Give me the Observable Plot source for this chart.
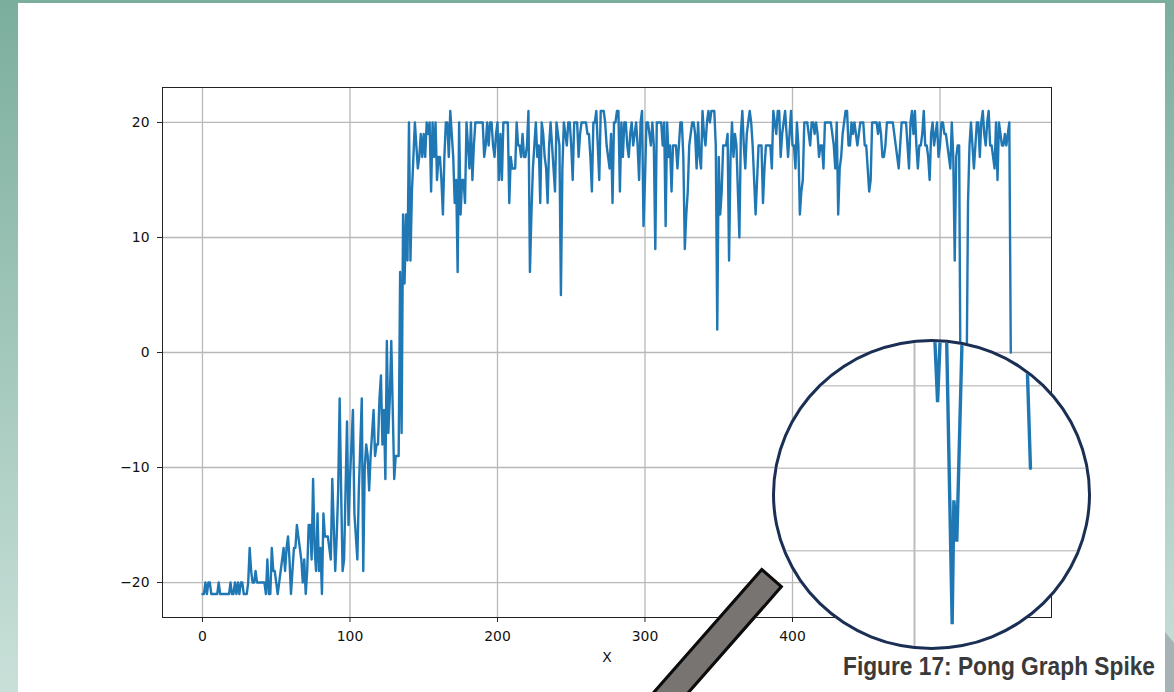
<!DOCTYPE html>
<html><head><meta charset="utf-8">
<script src="https://cdn.jsdelivr.net/npm/d3@7"></script>
<script src="https://cdn.jsdelivr.net/npm/@observablehq/plot@0.6"></script>
<style>
html,body{margin:0;padding:0}
#page{position:relative;width:1174px;height:692px;overflow:hidden;background:linear-gradient(to bottom,#7bae9d 0%,#c9e0d9 100%)}
#panel{position:absolute;left:18px;top:3px;width:1147px;height:689px;background:#fff}
#corner{position:absolute;left:1165px;top:632px;width:9px;height:60px;background:#a5b2b6;clip-path:polygon(0 0,100% 18%,100% 100%,0 100%)}
#main{position:absolute;left:0;top:0}
#handle{position:absolute;left:758px;top:577px;width:23px;height:200px;box-sizing:content-box;background:#787472;border:3px solid #0c0c0c;transform-origin:14.5px 0;transform:rotate(41.3deg)}
#lens{position:absolute;left:772px;top:339px;width:319px;height:311px;box-sizing:border-box;border:3px solid #1b2f55;border-radius:50%;background:#fff;overflow:hidden}
#lens svg{position:absolute;left:-3px;top:-3px;max-width:none!important}
#caption{position:absolute;left:843px;top:652px;font:bold 25px "Liberation Sans",sans-serif;color:#3a3a3a;white-space:nowrap;transform-origin:0 0}
svg{background:transparent!important}
</style></head>
<body><div id="page"><div id="panel"></div><div id="corner"></div><div id="main"></div><div id="handle"></div><div id="lens"></div><div id="caption">Figure 17: Pong Graph Spike</div></div>
<script>
const scores = [
-21,-21,-20,-21,-20,-20,-21,-21,-21,-21,
-21,-20,-21,-21,-21,-21,-21,-21,-21,-20,
-21,-21,-20,-21,-20,-21,-20,-20,-21,-21,
-21,-20,-17,-19,-20,-20,-19,-20,-20,-20,
-20,-20,-20,-21,-18,-21,-21,-17,-19,-19,
-20,-21,-20,-19,-18,-17,-19,-17,-16,-18,
-21,-19,-17,-17,-15,-16,-17,-18,-20,-18,
-21,-19,-15,-15,-18,-11,-17,-19,-14,-19,
-17,-21,-14,-16,-16,-16,-17,-18,-11,-15,
-19,-16,-12,-4,-12,-19,-18,-12,-6,-15,
-11,-8,-5,-14,-16,-18,-12,-8,-4,-19,
-10,-8,-9,-12,-9,-7,-5,-9,-8,-8,
-4,-2,-8,-5,-11,1,-7,-4,1,-5,
-11,-9,-9,-9,7,-7,12,6,12,8,
20,8,14,17,20,18,16,17,19,17,
19,17,20,19,20,14,20,17,20,15,
17,17,15,12,17,20,20,17,21,19,
17,13,15,7,20,12,15,15,13,20,
18,16,20,15,18,20,20,20,20,20,
20,17,18,20,18,20,20,18,17,19,
20,15,19,15,20,20,20,20,13,17,
16,16,16,20,18,18,17,19,17,17,
18,21,7,12,16,18,20,17,18,13,
20,19,17,16,13,18,20,18,16,14,
20,19,18,5,16,20,19,18,20,20,
18,15,20,20,20,17,19,20,20,20,
20,19,19,17,14,20,20,21,18,15,
21,21,21,20,18,17,16,19,13,20,
20,21,21,14,20,17,20,20,18,17,
19,20,18,19,20,18,15,20,21,11,
15,20,20,19,18,20,18,9,20,20,
20,20,18,20,11,20,17,18,14,18,
18,18,16,18,20,20,17,9,12,14,
18,19,20,20,19,16,20,17,16,21,
19,18,20,21,20,21,21,21,18,2,
17,12,14,18,18,18,19,8,17,20,
17,19,18,14,10,19,21,18,16,19,
20,21,20,18,15,12,15,18,18,18,
13,16,18,18,18,18,16,21,20,19,
21,21,17,19,20,21,19,17,19,21,
18,18,16,20,18,12,14,15,20,20,
20,19,18,20,20,19,20,19,17,18,
18,16,20,20,20,20,20,19,18,16,
20,12,16,17,19,20,21,21,18,18,
20,19,20,19,18,19,20,20,20,18,
18,16,14,15,20,20,20,20,19,20,
19,17,17,18,20,20,20,20,20,19,
18,17,16,18,20,20,20,20,18,16,
20,21,19,21,18,16,18,18,19,21,
18,18,17,15,19,20,18,19,20,17,
18,20,20,19,19,18,17,16,20,17,
8,17,18,18,-5,-8,-10,-8,-3,13,
18,20,18,16,18,20,20,17,20,21,
19,18,20,21,18,18,17,16,20,15,
20,19,18,18,19,18,19,20,0];
const episodes = scores.map((_, i) => i);
const xTicks = [0,100,200,300,400,500];
const yTicks = [-20,-10,0,10,20];
const lensYGrid = [0,-10,-20];
const lensXGrid = [500];
const lensX = [508.2,509.5,510.7, 513.2,515.5,516.2,517.4,519.6, 546.3,547.7];
const lensY = [6.7,-2,6.7, 6,-28.9,-13.9,-18.9,6, 3,-10];
const lensSeg = [0,0,0,1,1,1,1,1,2,2];

const font = {fontFamily:'"DejaVu Sans",sans-serif',fontSize:'13.9px',color:'#111',background:'transparent',overflow:'visible'};
const fmt = d3.format("d");
const chart = Plot.plot({
  width:1174,height:692,marginLeft:162,marginRight:123,marginTop:87,marginBottom:75,style:font,
  x:{domain:[-27.1,575.6]},
  y:{domain:[-23.04,23.04]},
  marks:[
    Plot.gridX(xTicks,{stroke:"#b8b8b8",strokeOpacity:1,strokeWidth:1.3}),
    Plot.gridY(yTicks,{stroke:"#b8b8b8",strokeOpacity:1,strokeWidth:1.3}),
    Plot.lineY(scores,{x:episodes,y:scores,stroke:"#1f77b4",strokeWidth:2.4,curve:"linear"}),
    Plot.frame({stroke:"#222",strokeWidth:1}),
    Plot.axisX(xTicks,{tickSize:5,tickPadding:9,tickFormat:fmt,label:"X",labelArrow:"none",labelAnchor:"center",labelOffset:44,stroke:"#222"}),
    Plot.axisY(yTicks,{tickSize:5,tickPadding:8,tickFormat:fmt,label:null,stroke:"#222"})
  ]
});
document.getElementById("main").append(chart);

const lens = Plot.plot({
  width:319,height:311,marginLeft:0,marginRight:0,marginTop:0,marginBottom:0,
  style:{background:'transparent'},
  x:{domain:[441.6,572.8],axis:null},
  y:{domain:[-32.1,5.6],axis:null},
  marks:[
    Plot.ruleY(lensYGrid,{stroke:"#c8c8c8",strokeWidth:1.5}),
    Plot.ruleX(lensXGrid,{stroke:"#bdbdbd",strokeWidth:2}),
    Plot.line(lensX.map((_, i) => i),{x:i=>lensX[i],y:i=>lensY[i],z:i=>lensSeg[i],stroke:"#1f77b4",strokeWidth:3.4,curve:"linear",strokeLinejoin:"miter"})
  ]
});
document.getElementById("lens").append(lens);
const cap = document.getElementById("caption");
cap.style.transform = `scaleX(${312 / cap.getBoundingClientRect().width})`;
</script></body></html>
